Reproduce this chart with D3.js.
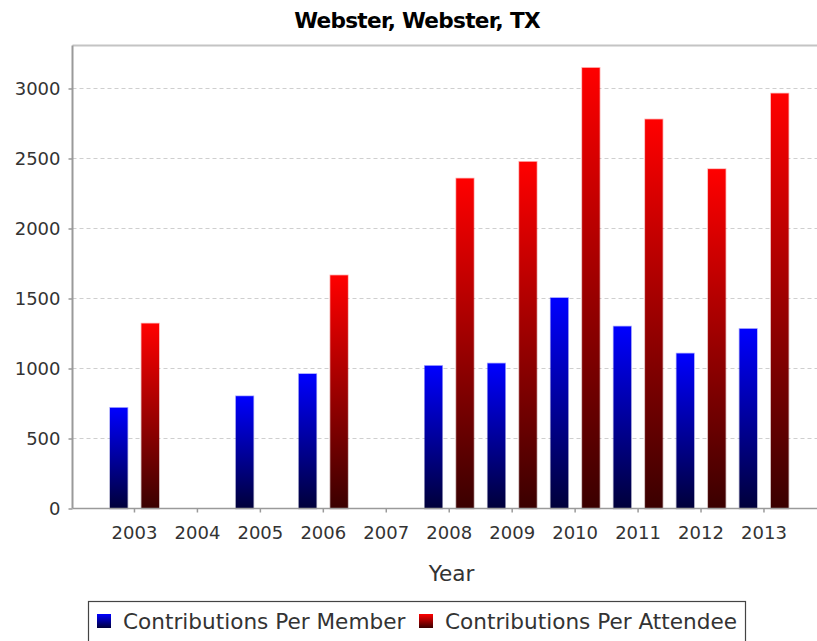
<!DOCTYPE html>
<html>
<head>
<meta charset="utf-8">
<script src="https://cdn.jsdelivr.net/npm/d3@7"></script>
<style>
  html, body { margin: 0; padding: 0; background: #fff; }
  svg { display: block; font-family: "DejaVu Sans", sans-serif; }
</style>
</head>
<body>
<svg id="chart" width="817" height="641"></svg>
<script>
const title = "Webster, Webster, TX";
const xAxisLabel = "Year";
const categories = ["2003","2004","2005","2006","2007","2008","2009","2010","2011","2012","2013"];
const seriesNames = ["Contributions Per Member", "Contributions Per Attendee"];
const memberValues   = [719, null, 802, 961, null, 1019, 1036, 1504, 1300, 1107, 1283];
const attendeeValues = [1321, null, null, 1665, null, 2357, 2476, 3147, 2779, 2424, 2964];
const yTicks = [0, 500, 1000, 1500, 2000, 2500, 3000];
const seriesColors = [["#0000ff", "#00003a"], ["#ff0000", "#3a0000"]];

const svg = d3.select("#chart");
const plot = { left: 72.5, right: 830, top: 45.5, bottom: 508.5 };

const defs = svg.append("defs");
seriesColors.forEach((c, i) => {
  const g = defs.append("linearGradient").attr("id", "grad" + i)
    .attr("x1", 0).attr("y1", 0).attr("x2", 0).attr("y2", 1);
  g.append("stop").attr("offset", "0%").attr("stop-color", c[0]);
  g.append("stop").attr("offset", "100%").attr("stop-color", c[1]);
});
defs.append("clipPath").attr("id", "clipAll").append("rect")
  .attr("x", 0).attr("y", 0).attr("width", 817).attr("height", 641);

const y = d3.scaleLinear().domain([0, 3307]).range([plot.bottom, plot.top]);
const x0 = d3.scaleBand().domain(categories).range([103, 103 + 62.95 * categories.length]).padding(0);
const x1 = d3.scaleBand().domain(seriesNames).range([7, 56]).paddingInner(0.444).paddingOuter(0);

// gridlines
svg.append("g").selectAll("line").data(yTicks.filter(t => t > 0)).join("line")
  .attr("x1", plot.left).attr("x2", 817)
  .attr("y1", d => Math.round(y(d)) + 0.5).attr("y2", d => Math.round(y(d)) + 0.5)
  .attr("stroke", "#cfcfcf").attr("stroke-width", 1).attr("stroke-dasharray", "4,3");

// top border
svg.append("line").attr("x1", plot.left).attr("x2", 817).attr("y1", plot.top).attr("y2", plot.top)
  .attr("stroke", "#c4c4c4").attr("stroke-width", 2);

// bars
const rows = categories.map((c, i) => ({ cat: c, vals: [memberValues[i], attendeeValues[i]] }));
const barG = svg.append("g");
rows.forEach(r => {
  r.vals.forEach((v, si) => {
    if (v == null) return;
    barG.append("rect")
      .attr("x", x0(r.cat) + x1(seriesNames[si]))
      .attr("y", y(v))
      .attr("width", x1.bandwidth())
      .attr("height", y(0) - y(v))
      .attr("fill", "url(#grad" + si + ")")
      .attr("stroke", "url(#grad" + si + ")")
      .attr("stroke-opacity", 0.35)
      .attr("stroke-width", 1.5);
  });
});

// y axis
const yAxis = d3.axisLeft(y).tickValues(yTicks).tickSize(4).tickPadding(8).tickFormat(d3.format("d"));
const yg = svg.append("g").attr("transform", `translate(${plot.left},0)`).call(yAxis);
yg.select(".domain").attr("stroke", "#9a9a9a").attr("stroke-width", 2)
  .attr("d", `M0,${plot.top}V${plot.bottom}`);
yg.selectAll(".tick line").attr("stroke", "#9a9a9a").attr("stroke-width", 1.5);
yg.selectAll(".tick text").attr("font-size", "18px").attr("fill", "#333")
  .attr("font-family", "DejaVu Sans, sans-serif").attr("dy", "0.36em");

// x axis
const xCenter = d3.scaleOrdinal().domain(categories).range(categories.map(c => x0(c) + x0.bandwidth() / 2));
const xAxis = d3.axisBottom(x0).tickSize(4).tickPadding(14);
const xg = svg.append("g").attr("transform", `translate(0,${plot.bottom})`).call(xAxis);
xg.select(".domain").attr("stroke", "#9a9a9a").attr("stroke-width", 1.5)
  .attr("d", `M${plot.left},0H817`);
xg.selectAll(".tick line").attr("stroke", "#9a9a9a").attr("stroke-width", 1.5);
xg.selectAll(".tick text").attr("font-size", "18px").attr("fill", "#333")
  .attr("font-family", "DejaVu Sans, sans-serif");

// axis label
svg.append("text").attr("x", 451.5).attr("y", 581).attr("text-anchor", "middle")
  .attr("font-size", "21.6px").attr("fill", "#333").text(xAxisLabel);

// title
svg.append("text").attr("x", 417).attr("y", 27.5).attr("text-anchor", "middle")
  .attr("font-size", "21.6px").attr("font-weight", "bold").attr("letter-spacing", "-0.7px")
  .attr("fill", "#000").text(title);

// legend
const legend = svg.append("g");
legend.append("rect").attr("x", 88.5).attr("y", 601.5).attr("width", 657).attr("height", 45)
  .attr("fill", "#fff").attr("stroke", "#444").attr("stroke-width", 1.2);
const legendX = [97, 419];
seriesNames.forEach((name, i) => {
  legend.append("rect").attr("x", legendX[i]).attr("y", 614).attr("width", 14).attr("height", 14)
    .attr("fill", "url(#grad" + i + ")");
  legend.append("text").attr("x", legendX[i] + 26).attr("y", 629)
    .attr("font-size", "21.6px").attr("fill", "#333").text(name);
});
</script>
</body>
</html>
